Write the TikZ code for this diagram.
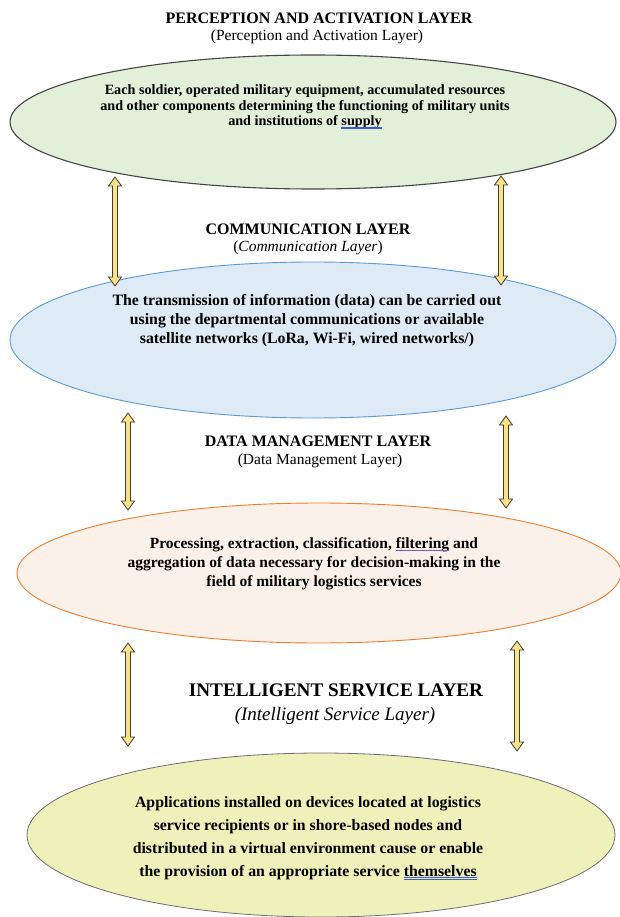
\documentclass[tikz,border=0pt]{standalone}
\usepackage{fontspec}
\setmainfont{Liberation Serif}
\usetikzlibrary{shapes.geometric,calc}
\definecolor{gfill}{RGB}{226,239,217}
\definecolor{gline}{RGB}{70,70,70}
\definecolor{bfill}{RGB}{222,235,247}
\definecolor{bline}{RGB}{91,155,213}
\definecolor{ofill}{RGB}{252,241,232}
\definecolor{oline}{RGB}{237,125,49}
\definecolor{yfill}{RGB}{238,242,186}
\definecolor{yline}{RGB}{110,110,110}
\definecolor{afill}{RGB}{250,226,140}
\definecolor{aline}{RGB}{70,60,40}
\definecolor{ulblue}{RGB}{60,90,200}
\definecolor{ulpurple}{RGB}{110,90,200}
\newsavebox\mysulbox
\newcommand\dblul[1]{\sbox\mysulbox{#1}\rlap{\usebox\mysulbox}{\color{ulblue}\rlap{\raisebox{-1.6pt}{\rule{\wd\mysulbox}{0.5pt}}}\raisebox{-2.8pt}{\rule{\wd\mysulbox}{0.5pt}}}}
\newcommand\purul[1]{\sbox\mysulbox{#1}\rlap{\usebox\mysulbox}{\color{ulpurple}\raisebox{-2pt}{\rule{\wd\mysulbox}{0.7pt}}}}
\newcommand\blkarrow[2]{%
  \path let \p1=(#1), \p2=(#2) in
    [draw=aline, fill=afill, line width=0.8pt, line join=miter]
    (\x1,\y1) -- (\x1+6.5pt,\y1-9pt) -- (\x1+2.5pt,\y1-9pt) -- (\x1+2.5pt,\y2+9pt)
    -- (\x1+6.5pt,\y2+9pt) -- (\x1,\y2) -- (\x1-6.5pt,\y2+9pt) -- (\x1-2.5pt,\y2+9pt)
    -- (\x1-2.5pt,\y1-9pt) -- (\x1-6.5pt,\y1-9pt) -- cycle;}
\begin{document}
\begin{tikzpicture}[x=1pt,y=-1pt,
  layer/.style={ellipse, inner sep=0pt, outer sep=0pt},
  ttl/.style={font=\fontsize{16}{18}\selectfont\bfseries, inner sep=0pt},
  sub/.style={font=\fontsize{15.5}{17}\selectfont, inner sep=0pt},
  body/.style={align=center, inner sep=0pt, font=\bfseries}]
\useasboundingbox (0,0) rectangle (619,917);
\fill[white] (0,0) rectangle (619,917);
% ellipses
\node[layer, draw=gline, fill=gfill, line width=1.1pt, minimum width=606pt, minimum height=134pt] (e1) at (313,122) {};
\node[layer, draw=bline, fill=bfill, line width=0.9pt, minimum width=606pt, minimum height=156pt] (e2) at (313,340) {};
\node[layer, draw=oline, fill=ofill, line width=0.9pt, minimum width=604pt, minimum height=140pt] (e3) at (319,573) {};
\node[layer, draw=yline, fill=yfill, line width=0.8pt, minimum width=588pt, minimum height=164pt] (e4) at (321,835) {};
% titles
\node[ttl] (t1) at (319,18) {PERCEPTION AND ACTIVATION LAYER};
\node[sub] (s1) at (317,37) {(Perception and Activation Layer)};
\node[ttl] (t2) at (308,229) {COMMUNICATION LAYER};
\node[sub] (s2) at (308,248) {(\textit{Communication Layer})};
\node[ttl] (t3) at (318,441) {DATA MANAGEMENT LAYER};
\node[sub] (s3) at (320,461) {(Data Management Layer)};
\node[ttl, font=\fontsize{19.2}{21}\selectfont\bfseries] (t4) at (336,690) {INTELLIGENT SERVICE LAYER};
\node[sub, font=\fontsize{19}{21}\selectfont\itshape] (s4) at (335,716) {(Intelligent Service Layer)};
% body texts
\node[body, font=\fontsize{14.2}{15.5}\selectfont\bfseries] (x1) at (305,107) {Each soldier, operated military equipment, accumulated resources\\and other components determining the functioning of military units\\and institutions of \dblul{supply}};
\node[body, font=\fontsize{15.8}{19}\selectfont\bfseries] (x2) at (307,321) {The transmission of information (data) can be carried out\\using the departmental communications or available\\satellite networks (LoRa, Wi-Fi, wired networks/)};
\node[body, font=\fontsize{15.5}{19}\selectfont\bfseries] (x3) at (314,564) {Processing, extraction, classification, \purul{filtering} and\\aggregation of data necessary for decision-making in the\\field of military logistics services};
\node[body, font=\fontsize{15.8}{23}\selectfont\bfseries] (x4) at (308,838) {Applications installed on devices located at logistics\\service recipients or in shore-based nodes and\\distributed in a virtual environment cause or enable\\the provision of an appropriate service \dblul{themselves}};
% arrow end points
\coordinate (a1t) at (115,177); \coordinate (a1b) at (115,286);
\coordinate (b1t) at (501,176); \coordinate (b1b) at (501,285);
\coordinate (a2t) at (128,413); \coordinate (a2b) at (128,510);
\coordinate (b2t) at (506,416); \coordinate (b2b) at (506,508);
\coordinate (a3t) at (128,643); \coordinate (a3b) at (128,746);
\coordinate (b3t) at (517,641); \coordinate (b3b) at (517,751);
\blkarrow{a1t}{a1b}
\blkarrow{b1t}{b1b}
\blkarrow{a2t}{a2b}
\blkarrow{b2t}{b2b}
\blkarrow{a3t}{a3b}
\blkarrow{b3t}{b3b}
\end{tikzpicture}
\end{document}
